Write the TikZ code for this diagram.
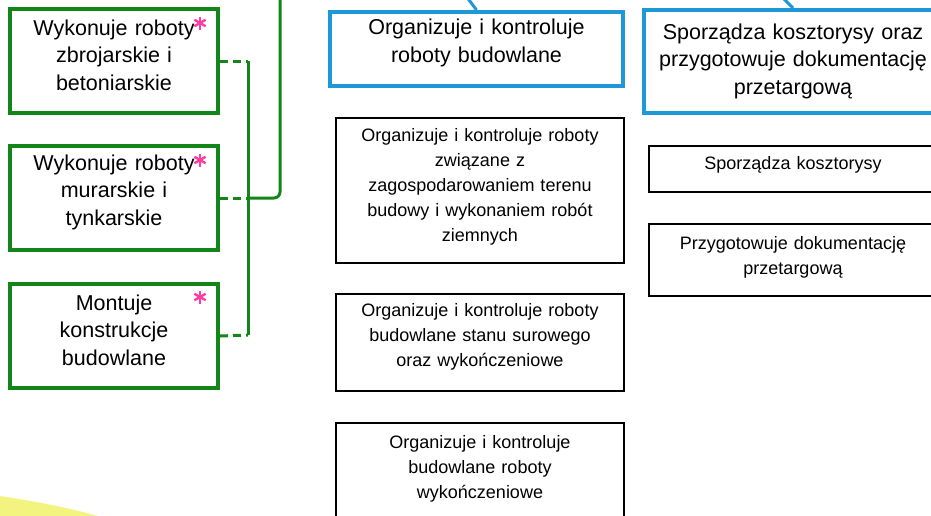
\documentclass[tikz,border=0pt]{standalone}
\usepackage{fontspec}
\setmainfont{Liberation Sans}
\definecolor{zielony}{RGB}{18,134,24}
\definecolor{niebieski}{RGB}{30,152,214}
\definecolor{rozowy}{RGB}{255,60,160}
\definecolor{zolty}{RGB}{243,244,128}
\tikzset{
  podnies/.style={execute at end node={\par\vspace*{#1}}},
  podnies/.default=12pt,
  zadanie/.style={draw=zielony, line width=4pt, inner sep=0pt, align=center,
    text width=196pt, minimum width=208pt, minimum height=104pt,
    font=\fontsize{21.5}{27.5}\selectfont, podnies},
  obszar/.style={draw=niebieski, line width=4pt, inner sep=0pt, align=center,
    text width=284pt, font=\fontsize{21.5}{27.5}\selectfont, podnies},
  czynnosc/.style={draw=black, line width=2pt, inner sep=0pt, align=center,
    text width=276pt, font=\fontsize{18}{25}\selectfont, podnies},
  laczeprzer/.style={draw=zielony, line width=3pt, dash pattern=on 8pt off 5pt},
  szyna/.style={draw=zielony, line width=3pt},
  gwiazdka/.pic={
    \foreach \a in {90,30,150}
      \draw[rozowy, line width=2.4pt] (\a:6.5) -- (\a+180:6.5);
  }
}
\begin{document}
\begin{tikzpicture}[x=1pt, y=-1pt]
  \clip (0,0) rectangle (931,515);
  \fill[zolty] (0,496) .. controls (40,502) and (70,508) .. (105,518) -- (0,518) -- cycle;

  % zadania zawodowe
  \node[zadanie] (z1) at (114,61) {Wykonuje roboty\\ zbrojarskie i\\ betoniarskie};
  \node[zadanie] (z2) at (114,198) {Wykonuje roboty\\ murarskie i\\ tynkarskie};
  \node[zadanie] (z3) at (114,336) {Montuje\\ konstrukcje\\ budowlane};
  \pic at ([shift={(-20,16)}]z1.north east) {gwiazdka};
  \pic at ([shift={(-20,16)}]z2.north east) {gwiazdka};
  \pic at ([shift={(-20,15)}]z3.north east) {gwiazdka};

  \coordinate (s1) at (248,61);
  \coordinate (s2) at (248,198);
  \coordinate (s3) at (248,335);
  \coordinate (gora) at (280,-4);
  \draw[laczeprzer] (z1.east) -- (s1);
  \draw[laczeprzer] (z2.east) -- (s2);
  \draw[laczeprzer] (z3.east) -- (s3);
  \draw[szyna] (s1) -- (s3);
  \draw[szyna, rounded corners=6pt] (s2) -| (gora);

  % obszary
  \node[obszar, text width=281pt, minimum width=293pt, minimum height=74pt] (bA) at (476.5,49)
    {Organizuje i kontroluje\\ roboty budowlane};
  \node[obszar, minimum width=298pt, minimum height=103pt, podnies=-11pt] (bB) at (793,61.5)
    {Sporządza kosztorysy oraz\\ przygotowuje dokumentację\\ przetargową};
  \coordinate (nA) at (466,-4);
  \coordinate (nB) at (780,-5);
  \draw[niebieski, line width=3pt] (nA) -- (bA.north);
  \draw[niebieski, line width=3pt] (nB) -- (bB.north);

  % czynnosci
  \node[czynnosc, minimum width=288pt, minimum height=145pt, podnies=-5pt] (c1) at (480,190.5)
    {Organizuje i kontroluje roboty\\ związane z\\ zagospodarowaniem terenu\\ budowy i wykonaniem robót\\ ziemnych};
  \node[czynnosc, minimum width=288pt, minimum height=97pt, podnies=0pt] (c2) at (480,342.5)
    {Organizuje i kontroluje roboty\\ budowlane stanu surowego\\ oraz wykończeniowe};
  \node[czynnosc, minimum width=288pt, minimum height=107pt, podnies=3pt] (c3) at (480,476.5)
    {Organizuje i kontroluje\\ budowlane roboty\\ wykończeniowe};
  \node[czynnosc, minimum width=288pt, minimum height=46pt, podnies=-3pt] (d1) at (793,169)
    {Sporządza kosztorysy};
  \node[czynnosc, minimum width=288pt, minimum height=72pt, podnies=-7pt] (d2) at (793,260)
    {Przygotowuje dokumentację\\ przetargową};
\end{tikzpicture}
\end{document}
